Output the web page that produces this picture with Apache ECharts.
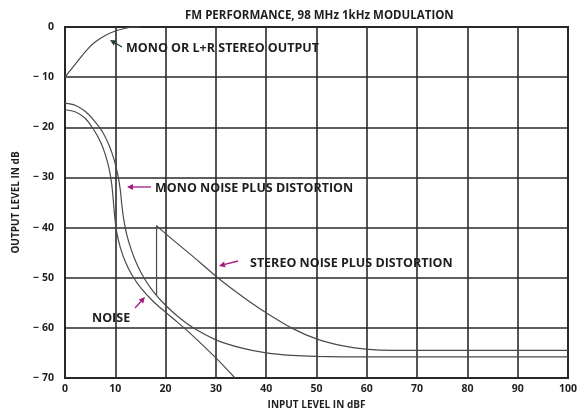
<!DOCTYPE html>
<html>
<head>
<meta charset="utf-8">
<script src="https://cdn.jsdelivr.net/npm/echarts@6/dist/echarts.min.js"></script>
<style>
html,body{margin:0;padding:0;background:#fff;}
#chart{width:585px;height:415px;}
</style>
</head>
<body>
<div id="chart"></div>
<script>
// ---- data ----
const xTicks = [0, 10, 20, 30, 40, 50, 60, 70, 80, 90, 100];
const yTicks = [0, -10, -20, -30, -40, -50, -60, -70];

const monoOutput = [[0,-10],[1.5,-8.1],[3,-6.2],[4.5,-4.4],[6,-3.0],[8,-1.7],[10,-0.8],[12,-0.25],[13.5,0],[15,0]];

const monoNoiseDist = [[0,-15.2],[2,-15.6],[4,-16.8],[6,-18.9],[7.5,-21],[8.8,-23.7],[9.8,-26.6],[10.5,-29.5],[11,-32.5],[11.3,-35.5],[11.7,-38.5],[12.3,-41.5],[13.2,-44.5],[14.3,-47.3],[15.8,-50.2],[17.6,-52.8],[20,-55.5],[22.5,-57.8],[25.5,-60],[30,-62.4],[35,-64],[40,-65],[45,-65.5],[50,-65.7],[60,-65.8],[100,-65.8]];

const noise = [[0,-16.5],[2,-16.9],[4,-18.2],[5.6,-20.3],[7,-22.8],[8,-25.4],[8.8,-28.4],[9.3,-31.5],[9.6,-34.5],[9.9,-38],[10.3,-41],[11,-44],[12,-46.8],[13.4,-49.6],[15.2,-52.2],[17.5,-54.7],[20,-56.9],[22.5,-59],[25,-61.2],[30,-66],[33.8,-70]];

const stereoJump = [[18.2,-53.5],[18.2,-39.6]];
const stereoNoiseDist = [[18.2,-39.6],[19.3,-40.6],[22,-42.9],[25,-45.4],[27,-47.1],[30,-49.7],[32,-51.3],[34.8,-53.4],[37,-55.0],[40,-57.0],[45.4,-60.2],[50,-62.2],[55.3,-63.6],[60.3,-64.3],[65,-64.5],[100,-64.5]];

const titleText = 'FM PERFORMANCE, 98 MHz 1kHz MODULATION';
const xName = 'INPUT LEVEL IN dBF';
const yName = 'OUTPUT LEVEL IN dB';

// ---- chart ----
const FONT = '"Open Sans"';
const TXT = '#1e1e1e';
const CURVE = '#4a4a4a';
const chart = echarts.init(document.getElementById('chart'));

function curve(name, data, smooth) {
  return {
    name: name, type: 'line', data: data, showSymbol: false, clip: false,
    smooth: smooth,
    lineStyle: { color: CURVE, width: 1.2 }, z: 3
  };
}

chart.setOption({
  backgroundColor: '#fff',
  animation: false,
  title: {
    text: titleText, left: 180, top: 5,
    textStyle: { fontFamily: FONT, fontSize: 11.5, fontWeight: 'bold', color: TXT }
  },
  grid: { left: 65, right: 17, top: 27, bottom: 37, show: true, borderColor: '#222', borderWidth: 2 },
  xAxis: {
    type: 'value', min: 0, max: 100, interval: 10,
    name: xName, nameLocation: 'middle', nameGap: 22,
    nameTextStyle: { fontFamily: FONT, fontSize: 10, fontWeight: 'bold', color: TXT },
    axisLine: { show: false }, axisTick: { show: false },
    axisLabel: { fontFamily: FONT, fontSize: 10.5, fontWeight: 'bold', color: TXT, margin: 6 },
    splitLine: { lineStyle: { color: '#2a2a2a', width: 1.6 } }
  },
  yAxis: {
    type: 'value', min: -70, max: 0, interval: 10,
    name: yName, nameLocation: 'middle', nameGap: 44,
    nameTextStyle: { fontFamily: FONT, fontSize: 10, fontWeight: 'bold', color: TXT },
    axisLine: { show: false }, axisTick: { show: false },
    axisLabel: {
      fontFamily: FONT, fontSize: 10.5, fontWeight: 'bold', color: TXT, margin: 11,
      formatter: function (v) { return v === 0 ? '0' : '\u2212 ' + Math.abs(v); }
    },
    splitLine: { lineStyle: { color: '#2a2a2a', width: 1.6 } }
  },
  series: [
    curve('MONO OR L+R STEREO OUTPUT', monoOutput, 0.3),
    curve('MONO NOISE PLUS DISTORTION', monoNoiseDist, 0.3),
    curve('NOISE', noise, 0.3),
    curve('STEREO JUMP', stereoJump, false),
    curve('STEREO NOISE PLUS DISTORTION', stereoNoiseDist, 0.3)
  ]
});

// ---- annotations ----
function arrow(x1, y1, x2, y2, color) {
  const ang = Math.atan2(y2 - y1, x2 - x1);
  const L = 6, W = 3;
  const bx = x2 - L * Math.cos(ang), by = y2 - L * Math.sin(ang);
  const px = -Math.sin(ang) * W, py = Math.cos(ang) * W;
  return [
    { type: 'line', shape: { x1: x1, y1: y1, x2: bx, y2: by }, style: { stroke: color, lineWidth: 1.3 }, z: 10 },
    { type: 'polygon', shape: { points: [[x2, y2], [bx + px, by + py], [bx - px, by - py]] }, style: { fill: color }, z: 10 }
  ];
}
function label(text, x, y) {
  return { type: 'text', x: x, y: y, z: 10,
    style: { text: text, font: 'bold 12.5px ' + FONT, fill: TXT, verticalAlign: 'middle' } };
}
const MAG = '#a3197e';
chart.setOption({
  graphic: [].concat(
    arrow(122, 47, 110, 40, '#1f3a3a'),
    label('MONO OR L+R STEREO OUTPUT', 126, 48),
    arrow(151, 187, 127, 187, MAG),
    label('MONO NOISE PLUS DISTORTION', 155, 188),
    arrow(238, 261, 219, 266, MAG),
    label('STEREO NOISE PLUS DISTORTION', 250, 263),
    arrow(135, 308, 145, 297, MAG),
    label('NOISE', 92, 318)
  )
});
</script>
</body>
</html>
